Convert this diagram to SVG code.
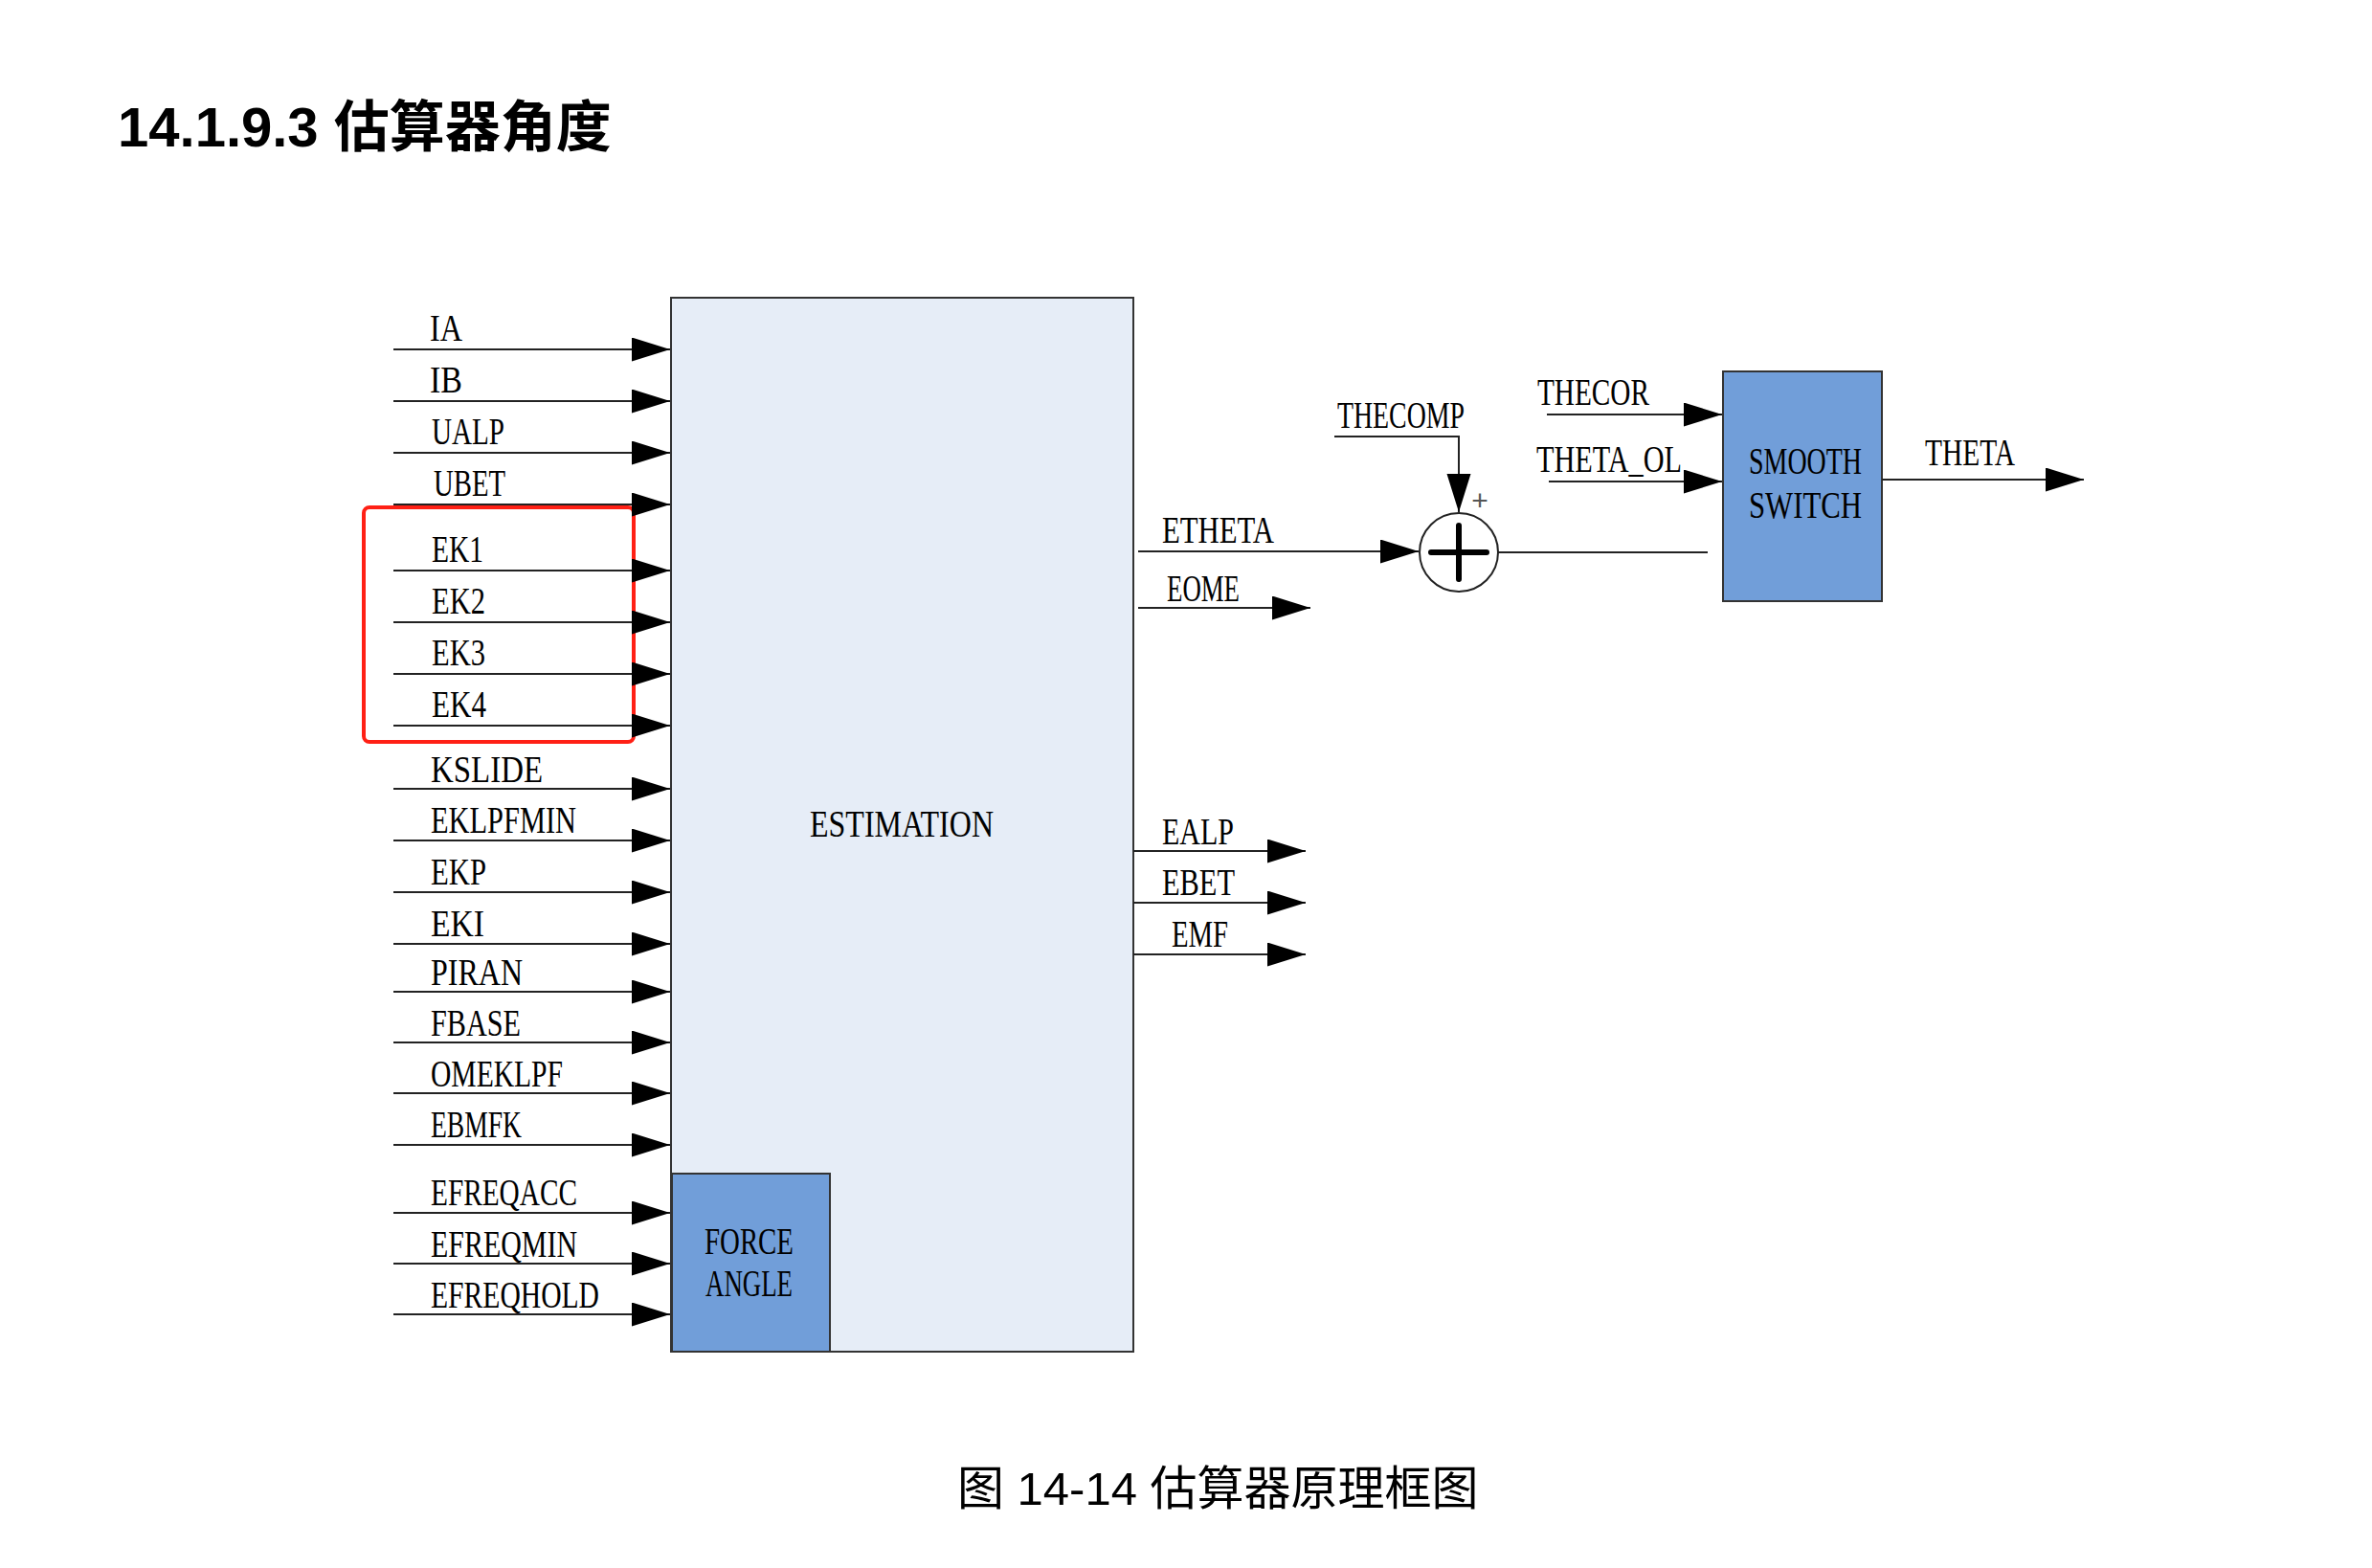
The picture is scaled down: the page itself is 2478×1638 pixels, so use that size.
<svg xmlns="http://www.w3.org/2000/svg" width="2478" height="1638" viewBox="0 0 2478 1638">
<style>
.lbl{font-family:"Liberation Serif","Noto Sans CJK SC",serif;font-size:40px;fill:#000}
.ln{stroke:#222;stroke-width:2;fill:none}
.arr{stroke:#222;stroke-width:2;fill:none;marker-end:url(#ah)}
.blk{fill:#719ED9;stroke:#333;stroke-width:2}
</style>
<defs>
<marker id="ah" markerUnits="userSpaceOnUse" markerWidth="40" markerHeight="26" refX="40" refY="12.5" orient="auto">
<path d="M0,0 L40,12.5 L0,25 Z" fill="#000"/>
</marker>
</defs>
<rect width="2478" height="1638" fill="#fff"/>
<text x="123" y="153" font-family="'Liberation Sans','Noto Sans CJK SC',sans-serif" font-size="58" font-weight="bold" fill="#000">14.1.9.3 估算器角度</text>

<g id="estimation">
<rect x="701" y="311" width="483" height="1101" fill="#E6EDF7" stroke="#333" stroke-width="2"/>
<text class="lbl" x="846" y="874" textLength="192" lengthAdjust="spacingAndGlyphs">ESTIMATION</text>
</g>
<g id="force_angle">
<rect class="blk" x="702" y="1226" width="165" height="186"/>
<text class="lbl" x="736" y="1310" textLength="93" lengthAdjust="spacingAndGlyphs">FORCE</text>
<text class="lbl" x="737" y="1354" textLength="91" lengthAdjust="spacingAndGlyphs">ANGLE</text>
</g>
<g id="smooth_switch">
<rect class="blk" x="1800" y="388" width="166" height="240"/>
<text class="lbl" x="1827" y="495" textLength="118" lengthAdjust="spacingAndGlyphs">SMOOTH</text>
<text class="lbl" x="1827" y="541" textLength="118" lengthAdjust="spacingAndGlyphs">SWITCH</text>
</g>
<g id="sum">
<circle cx="1524" cy="577" r="41" fill="#fff" stroke="#222" stroke-width="2"/>
<path d="M1495,577 H1553 M1524,549 V605" stroke="#000" stroke-width="6" stroke-linecap="round"/>
<text x="1546" y="533" text-anchor="middle" font-family="'Liberation Sans',sans-serif" font-size="30" fill="#555">+</text>
</g>
<g id="highlight">
<rect x="380" y="530" width="282" height="245" rx="6" fill="none" stroke="#FF2015" stroke-width="4"/>
</g>

<g id="connectors">
<path class="arr" d="M411,365 H700"/>
<path class="arr" d="M411,419 H700"/>
<path class="arr" d="M411,473 H700"/>
<path class="arr" d="M411,527 H700"/>
<path class="arr" d="M411,596 H700"/>
<path class="arr" d="M411,650 H700"/>
<path class="arr" d="M411,704 H700"/>
<path class="arr" d="M411,758 H700"/>
<path class="arr" d="M411,824 H700"/>
<path class="arr" d="M411,878 H700"/>
<path class="arr" d="M411,932 H700"/>
<path class="arr" d="M411,986 H700"/>
<path class="arr" d="M411,1036 H700"/>
<path class="arr" d="M411,1089 H700"/>
<path class="arr" d="M411,1142 H700"/>
<path class="arr" d="M411,1196 H700"/>
<path class="arr" d="M411,1267 H700"/>
<path class="arr" d="M411,1320 H700"/>
<path class="arr" d="M411,1373 H700"/>
<path class="arr" d="M1189,576 H1482"/>
<path class="arr" d="M1189,635 H1369"/>
<path class="arr" d="M1184,889 H1364"/>
<path class="arr" d="M1184,943 H1364"/>
<path class="arr" d="M1184,997 H1364"/>
<path class="arr" d="M1394,456 H1524 V535"/>
<path class="ln" d="M1565,577 H1784"/>
<path class="arr" d="M1616,433 H1799"/>
<path class="arr" d="M1618,503 H1799"/>
<path class="arr" d="M1966,501 H2177"/>
</g>

<g id="labels">
<text class="lbl" x="449" y="356" textLength="34" lengthAdjust="spacingAndGlyphs">IA</text>
<text class="lbl" x="449" y="410" textLength="34" lengthAdjust="spacingAndGlyphs">IB</text>
<text class="lbl" x="451" y="464" textLength="76" lengthAdjust="spacingAndGlyphs">UALP</text>
<text class="lbl" x="453" y="518" textLength="75" lengthAdjust="spacingAndGlyphs">UBET</text>
<text class="lbl" x="451" y="587" textLength="54" lengthAdjust="spacingAndGlyphs">EK1</text>
<text class="lbl" x="451" y="641" textLength="56" lengthAdjust="spacingAndGlyphs">EK2</text>
<text class="lbl" x="451" y="695" textLength="56" lengthAdjust="spacingAndGlyphs">EK3</text>
<text class="lbl" x="451" y="749" textLength="57" lengthAdjust="spacingAndGlyphs">EK4</text>
<text class="lbl" x="450" y="817" textLength="117" lengthAdjust="spacingAndGlyphs">KSLIDE</text>
<text class="lbl" x="450" y="870" textLength="152" lengthAdjust="spacingAndGlyphs">EKLPFMIN</text>
<text class="lbl" x="450" y="924" textLength="58" lengthAdjust="spacingAndGlyphs">EKP</text>
<text class="lbl" x="450" y="978" textLength="56" lengthAdjust="spacingAndGlyphs">EKI</text>
<text class="lbl" x="450" y="1029" textLength="96" lengthAdjust="spacingAndGlyphs">PIRAN</text>
<text class="lbl" x="450" y="1082" textLength="94" lengthAdjust="spacingAndGlyphs">FBASE</text>
<text class="lbl" x="450" y="1135" textLength="138" lengthAdjust="spacingAndGlyphs">OMEKLPF</text>
<text class="lbl" x="450" y="1188" textLength="95" lengthAdjust="spacingAndGlyphs">EBMFK</text>
<text class="lbl" x="450" y="1259" textLength="153" lengthAdjust="spacingAndGlyphs">EFREQACC</text>
<text class="lbl" x="450" y="1313" textLength="153" lengthAdjust="spacingAndGlyphs">EFREQMIN</text>
<text class="lbl" x="450" y="1366" textLength="176" lengthAdjust="spacingAndGlyphs">EFREQHOLD</text>
<text class="lbl" x="1214" y="567" textLength="117" lengthAdjust="spacingAndGlyphs">ETHETA</text>
<text class="lbl" x="1219" y="628" textLength="76" lengthAdjust="spacingAndGlyphs">EOME</text>
<text class="lbl" x="1214" y="882" textLength="75" lengthAdjust="spacingAndGlyphs">EALP</text>
<text class="lbl" x="1214" y="935" textLength="76" lengthAdjust="spacingAndGlyphs">EBET</text>
<text class="lbl" x="1224" y="989" textLength="59" lengthAdjust="spacingAndGlyphs">EMF</text>
<text class="lbl" x="1397" y="447" textLength="133" lengthAdjust="spacingAndGlyphs">THECOMP</text>
<text class="lbl" x="1606" y="423" textLength="117" lengthAdjust="spacingAndGlyphs">THECOR</text>
<text class="lbl" x="1605" y="493" textLength="152" lengthAdjust="spacingAndGlyphs">THETA_OL</text>
<text class="lbl" x="2011" y="486" textLength="94" lengthAdjust="spacingAndGlyphs">THETA</text>
</g>

<text x="1000" y="1572" font-family="'Liberation Sans','Noto Sans CJK SC',sans-serif" font-size="49" fill="#000">图 14-14 估算器原理框图</text>
</svg>
